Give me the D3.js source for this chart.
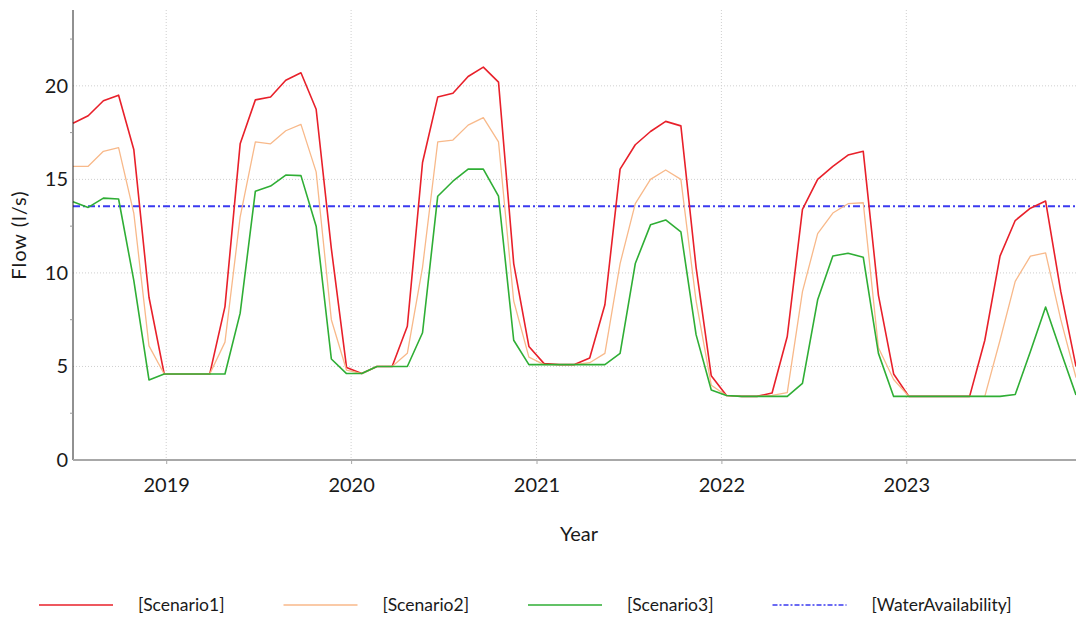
<!DOCTYPE html>
<html>
<head>
<meta charset="utf-8">
<script src="https://cdn.jsdelivr.net/npm/d3@7"></script>
<style>
  body { margin: 0; background: #fff; }
  svg { display: block; font-family: Lato, "DejaVu Sans", sans-serif; }
  .grid line { stroke: #cfcfcf; stroke-dasharray: 1,2; }
</style>
</head>
<body>
<svg width="1076" height="622"></svg>
<script>
// Simulation output, one value every 30 days starting July 2018
var startDate = new Date(2018, 6, 1);
var stepDays = 30;

var scenario1 = [18.0, 18.4, 19.2, 19.5, 16.6, 8.7, 4.6, 4.6, 4.6, 4.6, 8.2, 16.9,
  19.25, 19.4, 20.3, 20.7, 18.75, 11.3, 4.95, 4.62, 5.0, 5.0, 7.15, 15.9,
  19.4, 19.6, 20.5, 21.0, 20.2, 10.5, 6.07, 5.15, 5.1, 5.1, 5.45, 8.3,
  15.55, 16.85, 17.56, 18.1, 17.86, 10.3, 4.5, 3.45, 3.4, 3.4, 3.58, 6.6,
  13.4, 15.0, 15.7, 16.3, 16.5, 8.8, 4.6, 3.4, 3.4, 3.4, 3.4, 3.4,
  6.4, 10.9, 12.8, 13.46, 13.84, 9.0, 5.0];

var scenario2 = [15.7, 15.7, 16.5, 16.7, 13.2, 6.1, 4.6, 4.6, 4.6, 4.6, 6.3, 13.0,
  17.0, 16.9, 17.6, 17.94, 15.4, 7.5, 4.8, 4.62, 5.0, 5.0, 5.7, 10.3,
  17.0, 17.1, 17.9, 18.3, 17.0, 8.5, 5.5, 5.1, 5.1, 5.1, 5.2, 5.7,
  10.5, 13.7, 15.0, 15.5, 15.0, 8.5, 4.0, 3.45, 3.4, 3.4, 3.45, 3.6,
  9.0, 12.1, 13.2, 13.7, 13.75, 6.0, 4.3, 3.4, 3.4, 3.4, 3.4, 3.4,
  3.4, 6.4, 9.55, 10.9, 11.07, 7.5, 4.4];

var scenario3 = [13.8, 13.5, 14.0, 13.95, 9.6, 4.28, 4.6, 4.6, 4.6, 4.6, 4.6, 7.85,
  14.37, 14.64, 15.23, 15.2, 12.5, 5.4, 4.62, 4.62, 5.0, 5.0, 5.0, 6.8,
  14.1, 14.9, 15.55, 15.55, 14.1, 6.4, 5.1, 5.1, 5.1, 5.1, 5.1, 5.1,
  5.7, 10.5, 12.57, 12.83, 12.2, 6.7, 3.74, 3.45, 3.4, 3.4, 3.4, 3.4,
  4.1, 8.56, 10.9, 11.05, 10.84, 5.7, 3.4, 3.4, 3.4, 3.4, 3.4, 3.4,
  3.4, 3.4, 3.5, 5.8, 8.18, 5.8, 3.48];

var waterAvailability = 13.56;

var yTicks = [0, 5, 10, 15, 20];
var yMinorTicks = [2.5, 7.5, 12.5, 17.5, 22.5];

var dates = d3.range(scenario1.length).map(function(i) {
  return d3.timeDay.offset(startDate, i * stepDays);
});

var series = [
  { name: "[Scenario1]", values: scenario1, color: "#e8202a", width: 1.6 },
  { name: "[Scenario2]", values: scenario2, color: "#f8b98a", width: 1.3 },
  { name: "[Scenario3]", values: scenario3, color: "#2fae35", width: 1.6 }
];

var svg = d3.select("svg");
var plotLeft = 73, plotRight = 1076, plotTop = 10, plotBottom = 460;

var x = d3.scaleTime()
  .domain([dates[0], dates[dates.length - 1]])
  .range([plotLeft, plotRight]);

var y = d3.scaleLinear()
  .domain([0, 24])
  .range([plotBottom, plotTop + 1]);

var years = x.ticks(d3.timeYear.every(1));

// grid
var grid = svg.append("g").attr("class", "grid");
grid.selectAll(".hg")
  .data(yTicks.slice(1))
  .enter().append("line")
  .attr("x1", plotLeft).attr("x2", plotRight)
  .attr("y1", function(d) { return y(d); })
  .attr("y2", function(d) { return y(d); });
grid.selectAll(".vg")
  .data(years)
  .enter().append("line")
  .attr("y1", plotTop).attr("y2", plotBottom)
  .attr("x1", function(d) { return x(d); })
  .attr("x2", function(d) { return x(d); });

// water availability
svg.append("line")
  .attr("x1", plotLeft).attr("x2", plotRight)
  .attr("y1", y(waterAvailability)).attr("y2", y(waterAvailability))
  .attr("stroke", "#3a3af0")
  .attr("stroke-width", 2)
  .attr("stroke-dasharray", "7,3,2,3");

// scenario lines
var line = d3.line()
  .x(function(d, i) { return x(dates[i]); })
  .y(function(d) { return y(d); });

svg.selectAll(".series")
  .data(series)
  .enter().append("path")
  .attr("fill", "none")
  .attr("stroke", function(d) { return d.color; })
  .attr("stroke-width", function(d) { return d.width; })
  .attr("stroke-linejoin", "round")
  .attr("d", function(d) { return line(d.values); });

// y axis
var yAxis = svg.append("g")
  .attr("transform", "translate(" + plotLeft + ",0)")
  .call(d3.axisLeft(y).tickValues(yTicks).tickSize(0).tickPadding(5));
yAxis.select(".domain").attr("stroke", "#222").attr("d", "M0," + plotTop + "V" + plotBottom);
yAxis.selectAll("text").attr("font-size", 20).attr("fill", "#1a1a1a").attr("font-family", "Lato, sans-serif");
yAxis.selectAll(".minor")
  .data(yMinorTicks)
  .enter().append("line")
  .attr("x1", -3).attr("x2", 0)
  .attr("y1", function(d) { return y(d); })
  .attr("y2", function(d) { return y(d); })
  .attr("stroke", "#999");

// x axis
var xAxis = svg.append("g")
  .attr("transform", "translate(0," + plotBottom + ")")
  .call(d3.axisBottom(x).tickValues(years).tickFormat(d3.timeFormat("%Y")).tickSize(4).tickPadding(14));
xAxis.select(".domain").attr("stroke", "#a8a8a8").attr("stroke-width", 2).attr("d", "M" + plotLeft + ",0H" + plotRight);
xAxis.selectAll(".tick line").attr("stroke", "#a8a8a8");
xAxis.selectAll("text").attr("font-size", 20).attr("fill", "#1a1a1a").attr("font-family", "Lato, sans-serif");

// axis titles
svg.append("text")
  .attr("transform", "translate(26," + ((plotTop + plotBottom) / 2) + ") rotate(-90)")
  .attr("text-anchor", "middle")
  .attr("font-size", 20)
  .attr("letter-spacing", 1)
  .attr("fill", "#1a1a1a")
  .text("Flow (l/s)");

svg.append("text")
  .attr("x", 579).attr("y", 541)
  .attr("text-anchor", "middle")
  .attr("font-size", 20)
  .attr("fill", "#1a1a1a")
  .text("Year");

// legend
var legendItems = series.concat([{ name: "[WaterAvailability]", color: "#3a3af0", width: 1.3, dash: "5,2,2,2" }]);
var legend = svg.selectAll(".legend")
  .data(legendItems)
  .enter().append("g")
  .attr("transform", function(d, i) { return "translate(" + (39 + i * 244.5) + ",605)"; });
legend.append("line")
  .attr("x1", 0).attr("x2", 74)
  .attr("stroke", function(d) { return d.color; })
  .attr("stroke-width", function(d) { return d.width; })
  .attr("stroke-dasharray", function(d) { return d.dash || null; });
legend.append("text")
  .attr("x", 99).attr("y", 6)
  .attr("font-size", 17.5)
  .attr("fill", "#1a1a1a")
  .text(function(d) { return d.name; });
</script>
</body>
</html>
